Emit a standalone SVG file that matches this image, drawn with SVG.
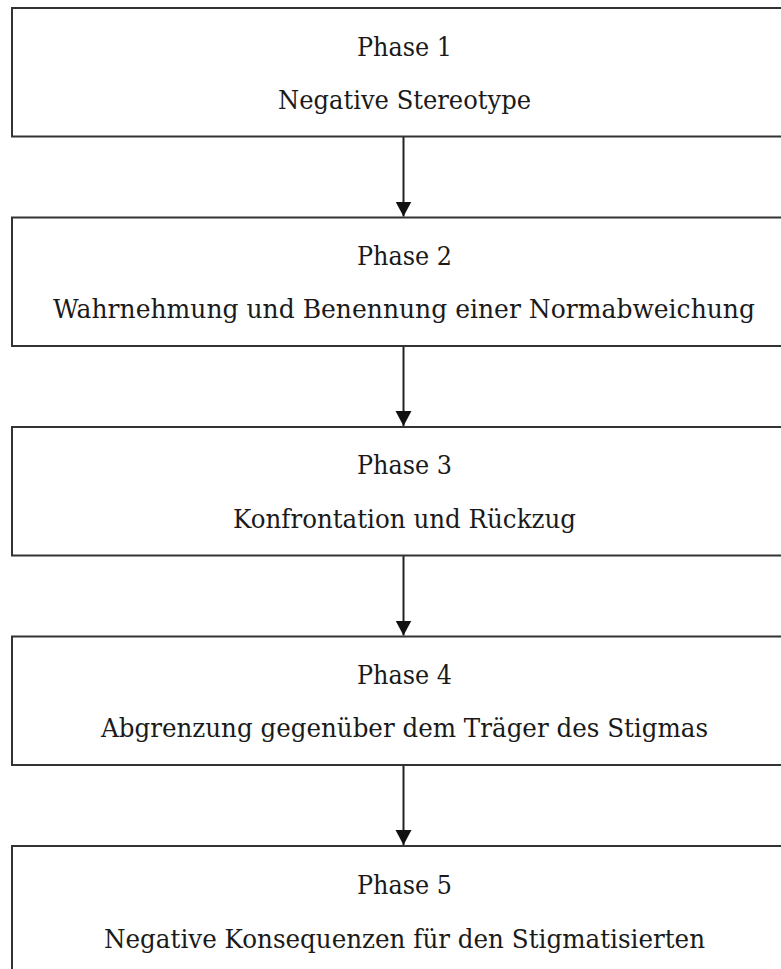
<svg xmlns="http://www.w3.org/2000/svg" width="781" height="969" viewBox="0 0 781 969">
<defs>
<style>
.box{fill:#ffffff;stroke:#333333;stroke-width:2}
.t{font-family:"DejaVu Serif","Liberation Serif",serif;font-size:26px;fill:#1a1a1a;text-anchor:middle}
.c{stroke:#222222;stroke-width:2;fill:none}
</style>
<marker id="ah" markerUnits="userSpaceOnUse" markerWidth="16" markerHeight="20" refX="15" refY="8" orient="auto" viewBox="0 0 16 16">
<path d="M0,0 L15,8 L0,16 Z" fill="#111111"/>
</marker>
</defs>
<rect width="781" height="969" fill="#ffffff"/>
<g id="connectors">
<line class="c" x1="403.5" y1="136.5" x2="403.5" y2="216.5" marker-end="url(#ah)"/>
<line class="c" x1="403.5" y1="346" x2="403.5" y2="426" marker-end="url(#ah)"/>
<line class="c" x1="403.5" y1="555.5" x2="403.5" y2="635.5" marker-end="url(#ah)"/>
<line class="c" x1="403.5" y1="765" x2="403.5" y2="845" marker-end="url(#ah)"/>
</g>
<g id="phase1">
<rect class="box" x="12" y="8" width="800" height="128.5"/>
<text class="t" x="404.5" y="56" textLength="95" lengthAdjust="spacingAndGlyphs">Phase 1</text>
<text class="t" x="404.5" y="109" textLength="253" lengthAdjust="spacingAndGlyphs">Negative Stereotype</text>
</g>
<g id="phase2">
<rect class="box" x="12" y="217.5" width="800" height="128.5"/>
<text class="t" x="404.5" y="265" textLength="95" lengthAdjust="spacingAndGlyphs">Phase 2</text>
<text class="t" x="404" y="318" textLength="702" lengthAdjust="spacingAndGlyphs">Wahrnehmung und Benennung einer Normabweichung</text>
</g>
<g id="phase3">
<rect class="box" x="12" y="427" width="800" height="128.5"/>
<text class="t" x="404.5" y="474" textLength="95" lengthAdjust="spacingAndGlyphs">Phase 3</text>
<text class="t" x="404.5" y="528" textLength="343" lengthAdjust="spacingAndGlyphs">Konfrontation und Rückzug</text>
</g>
<g id="phase4">
<rect class="box" x="12" y="636.5" width="800" height="128.5"/>
<text class="t" x="404.5" y="684" textLength="95" lengthAdjust="spacingAndGlyphs">Phase 4</text>
<text class="t" x="404.5" y="737" textLength="607" lengthAdjust="spacingAndGlyphs">Abgrenzung gegenüber dem Träger des Stigmas</text>
</g>
<g id="phase5">
<rect class="box" x="12" y="846" width="800" height="160"/>
<text class="t" x="404.5" y="894" textLength="95" lengthAdjust="spacingAndGlyphs">Phase 5</text>
<text class="t" x="404.5" y="948" textLength="601" lengthAdjust="spacingAndGlyphs">Negative Konsequenzen für den Stigmatisierten</text>
</g>
</svg>
